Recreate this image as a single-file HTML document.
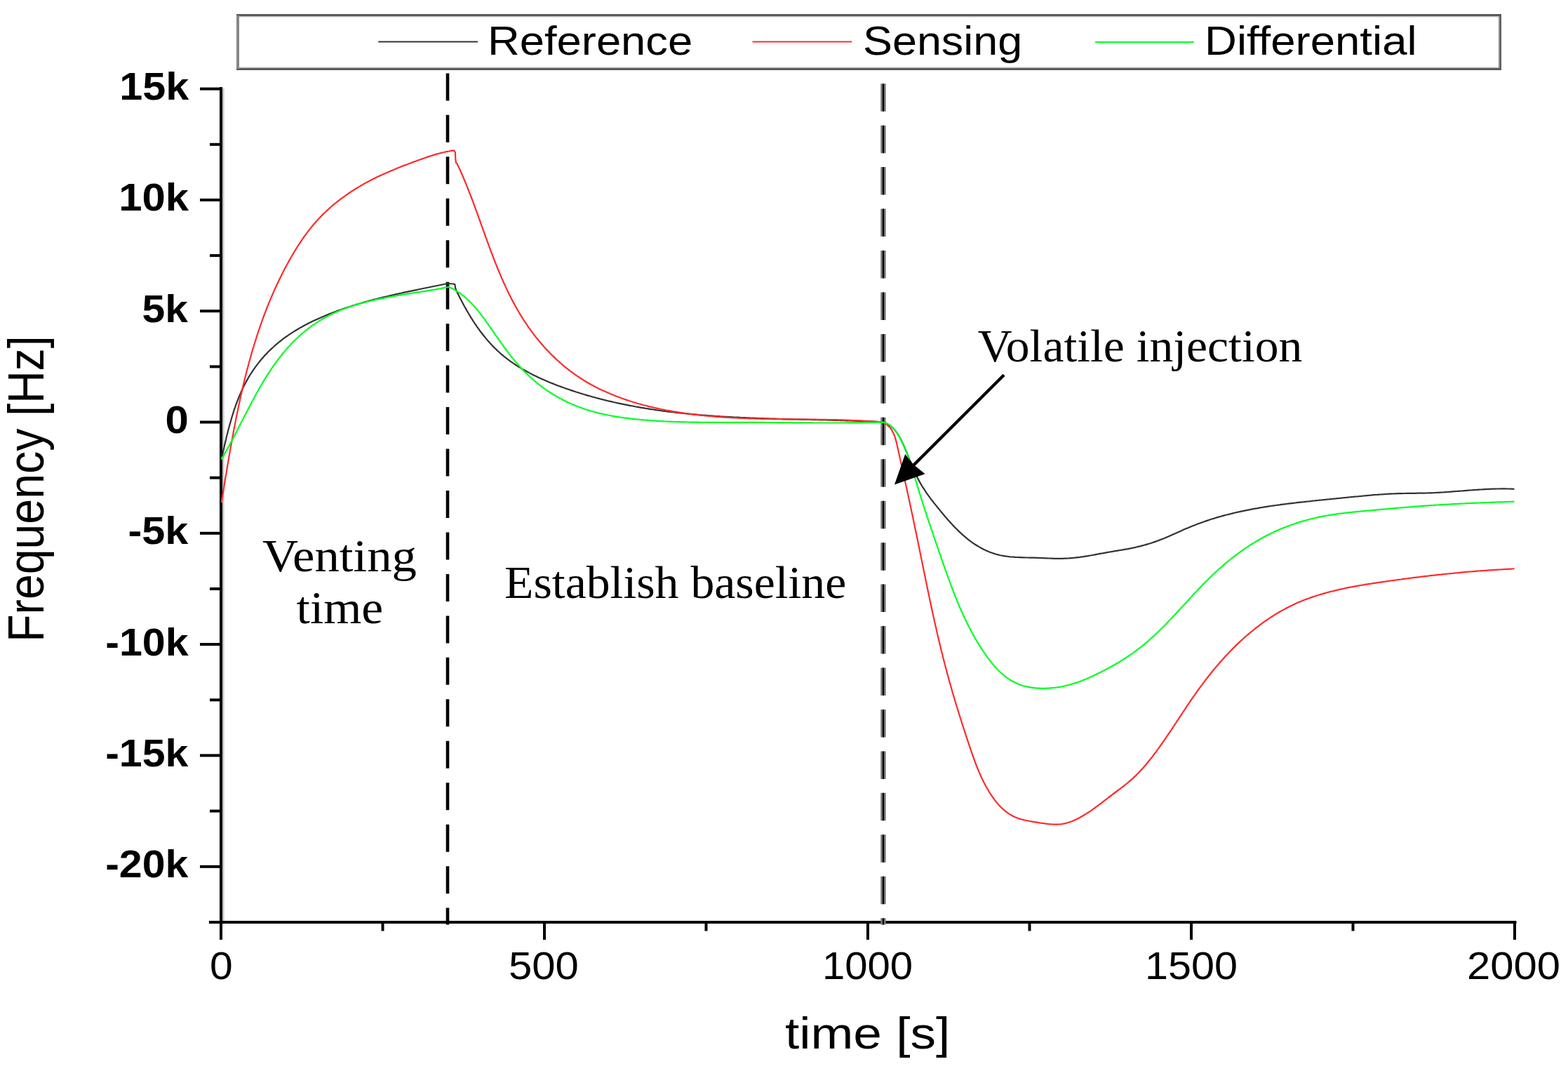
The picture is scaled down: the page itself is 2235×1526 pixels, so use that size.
<!DOCTYPE html><html><head><meta charset="utf-8"><title>Frequency vs time</title><style>html,body{margin:0;padding:0;background:#fff;}svg{display:block;}</style></head><body>
<svg width="2235" height="1526" viewBox="0 0 2235 1526">
<rect width="2235" height="1526" fill="#fff"/>
<rect x="337" y="20" width="1803" height="80" fill="#5a5a5a"/>
<rect x="337" y="23" width="1801" height="74" fill="#c2c2c2"/>
<rect x="341" y="24.5" width="1795" height="71" fill="#fff"/>
<rect x="337" y="22" width="4" height="76" fill="#878787"/>
<rect x="2136" y="23" width="1.8" height="74" fill="#8a8a8a"/>
<line x1="539.3" y1="59.5" x2="681" y2="59.5" stroke="#333" stroke-width="2"/>
<line x1="1072.5" y1="59.5" x2="1214.2" y2="59.5" stroke="#ff2a2a" stroke-width="2"/>
<line x1="1561" y1="60" x2="1701.9" y2="60" stroke="#00ff22" stroke-width="2"/>
<text x="695.00" y="77.60" font-size="57.50" font-weight="normal" font-family="'Liberation Sans', Arial, sans-serif" text-anchor="start" textLength="292.24" lengthAdjust="spacingAndGlyphs">Reference</text>
<text x="1230.00" y="77.60" font-size="57.50" font-weight="normal" font-family="'Liberation Sans', Arial, sans-serif" text-anchor="start" textLength="227.20" lengthAdjust="spacingAndGlyphs">Sensing</text>
<text x="1717.00" y="78.20" font-size="57.50" font-weight="normal" font-family="'Liberation Sans', Arial, sans-serif" text-anchor="start" textLength="302.62" lengthAdjust="spacingAndGlyphs">Differential</text>
<rect x="317" y="126" width="2.5" height="1186" fill="#c4c4c4"/>
<g stroke="#000" stroke-width="4" fill="none" stroke-linecap="butt">
<line x1="315" y1="124" x2="315" y2="1316.5"/>
<line x1="298" y1="1314" x2="2161.5" y2="1314"/>
<line x1="285" y1="1234.8" x2="315" y2="1234.8"/>
<line x1="285" y1="1076.4" x2="315" y2="1076.4"/>
<line x1="285" y1="918.1" x2="315" y2="918.1"/>
<line x1="285" y1="759.8" x2="315" y2="759.8"/>
<line x1="285" y1="601.5" x2="315" y2="601.5"/>
<line x1="285" y1="443.2" x2="315" y2="443.2"/>
<line x1="285" y1="284.9" x2="315" y2="284.9"/>
<line x1="285" y1="126.6" x2="315" y2="126.6"/>
<line x1="299" y1="205.8" x2="315" y2="205.8"/>
<line x1="299" y1="364.1" x2="315" y2="364.1"/>
<line x1="299" y1="522.4" x2="315" y2="522.4"/>
<line x1="299" y1="680.7" x2="315" y2="680.7"/>
<line x1="299" y1="839.0" x2="315" y2="839.0"/>
<line x1="299" y1="997.3" x2="315" y2="997.3"/>
<line x1="299" y1="1155.6" x2="315" y2="1155.6"/>
<line x1="315.0" y1="1314" x2="315.0" y2="1339"/>
<line x1="776.0" y1="1314" x2="776.0" y2="1339"/>
<line x1="1237.0" y1="1314" x2="1237.0" y2="1339"/>
<line x1="1698.0" y1="1314" x2="1698.0" y2="1339"/>
<line x1="2159.0" y1="1314" x2="2159.0" y2="1339"/>
<line x1="545.5" y1="1314" x2="545.5" y2="1326.5"/>
<line x1="1006.5" y1="1314" x2="1006.5" y2="1326.5"/>
<line x1="1467.5" y1="1314" x2="1467.5" y2="1326.5"/>
<line x1="1928.5" y1="1314" x2="1928.5" y2="1326.5"/>
</g>
<line x1="638" y1="104.4" x2="638" y2="1317.5" stroke="#000" stroke-width="4.6" stroke-dasharray="39 20.46"/>
<line x1="1258.95" y1="119.2" x2="1258.95" y2="1317.5" stroke="#7a7a7a" stroke-width="7.4" stroke-dasharray="39.5 19.95"/>
<line x1="1259" y1="119.2" x2="1259" y2="1317.5" stroke="#000" stroke-width="2.2" stroke-dasharray="39.5 19.95"/>
<g fill="none" stroke-width="2.2" stroke-linejoin="round">
<polyline stroke="#333" points="315.6,654.5 316.1,652.1 316.7,649.7 317.2,647.3 317.7,644.8 318.3,642.4 318.8,640.0 319.4,637.5 320.0,635.1 320.5,632.6 321.1,630.2 321.7,627.7 322.3,625.3 322.8,622.8 323.4,620.3 324.1,617.9 324.7,615.4 325.3,613.0 326.0,610.5 326.6,608.1 327.3,605.6 328.0,603.2 328.7,600.7 329.4,598.3 330.1,595.8 330.8,593.4 331.6,591.0 332.3,588.5 333.1,586.1 333.9,583.7 334.7,581.3 335.6,578.9 336.4,576.5 337.3,574.2 338.2,571.8 339.1,569.4 340.0,567.1 341.0,564.7 342.0,562.4 343.0,560.1 344.0,557.8 345.0,555.5 346.1,553.2 347.2,551.0 348.3,548.7 349.5,546.5 350.7,544.3 351.9,542.1 353.1,539.9 354.3,537.7 355.6,535.6 356.9,533.5 358.3,531.4 359.7,529.3 361.1,527.2 362.5,525.1 363.9,523.1 365.4,521.1 366.9,519.1 368.5,517.1 370.0,515.2 371.6,513.2 373.2,511.3 374.9,509.4 376.5,507.6 378.2,505.7 380.0,503.9 381.7,502.1 383.4,500.3 385.2,498.6 387.0,496.9 388.9,495.2 390.7,493.5 392.6,491.8 394.5,490.2 396.4,488.6 398.3,487.0 400.3,485.5 402.2,483.9 404.2,482.4 406.2,480.9 408.3,479.5 410.3,478.1 412.4,476.7 414.4,475.3 416.5,473.9 418.6,472.6 420.8,471.3 422.9,470.0 425.1,468.7 427.2,467.4 429.4,466.2 431.6,465.0 433.8,463.8 436.0,462.6 438.2,461.5 440.4,460.3 442.7,459.2 444.9,458.1 447.2,457.0 449.4,456.0 451.7,454.9 454.0,453.9 456.3,452.9 458.6,451.9 460.9,450.9 463.2,449.9 465.5,449.0 467.8,448.0 470.1,447.1 472.5,446.2 474.8,445.3 477.1,444.4 479.5,443.5 481.8,442.6 484.2,441.8 486.5,441.0 488.9,440.1 491.2,439.3 493.6,438.5 496.0,437.7 498.4,437.0 500.7,436.2 503.1,435.4 505.5,434.7 507.9,433.9 510.3,433.2 512.7,432.5 515.1,431.8 517.5,431.1 519.9,430.4 522.3,429.7 524.8,429.1 527.2,428.4 529.6,427.8 532.0,427.1 534.5,426.5 536.9,425.9 539.3,425.2 541.8,424.6 544.2,424.0 546.7,423.4 549.1,422.8 551.6,422.3 554.0,421.7 556.5,421.1 558.9,420.5 561.4,420.0 563.8,419.4 566.3,418.9 568.7,418.3 571.2,417.8 573.7,417.2 576.1,416.7 578.6,416.2 581.1,415.6 583.5,415.1 586.0,414.6 588.5,414.1 590.9,413.6 593.4,413.1 595.9,412.5 598.4,412.0 600.8,411.5 603.3,411.0 605.8,410.5 608.2,410.0 610.7,409.5 613.2,409.0 615.7,408.5 618.1,408.0 620.6,407.5 623.1,407.0 625.6,406.5 628.0,406.0 630.5,405.5 633.0,405.0 635.4,404.5 637.9,404.0 646.0,404.5 648.3,405.1 649.2,410.6 651.9,417.0 653.0,419.3 654.1,421.5 655.3,423.8 656.4,426.0 657.6,428.3 658.8,430.5 660.0,432.7 661.2,435.0 662.4,437.2 663.7,439.4 664.9,441.6 666.2,443.8 667.5,446.0 668.8,448.2 670.1,450.4 671.4,452.6 672.8,454.7 674.1,456.9 675.5,459.0 676.9,461.1 678.4,463.2 679.8,465.3 681.3,467.4 682.7,469.4 684.2,471.5 685.7,473.5 687.3,475.5 688.8,477.5 690.4,479.5 692.0,481.4 693.6,483.4 695.2,485.3 696.9,487.1 698.6,489.0 700.3,490.8 702.0,492.7 703.7,494.4 705.5,496.2 707.3,497.9 709.1,499.7 710.9,501.3 712.7,503.0 714.6,504.6 716.5,506.2 718.4,507.8 720.4,509.4 722.3,510.9 724.3,512.4 726.3,513.8 728.3,515.3 730.3,516.7 732.4,518.1 734.5,519.5 736.5,520.9 738.6,522.2 740.8,523.5 742.9,524.8 745.0,526.1 747.2,527.3 749.4,528.5 751.6,529.7 753.8,530.9 756.0,532.1 758.2,533.3 760.5,534.4 762.7,535.5 765.0,536.6 767.2,537.7 769.5,538.7 771.8,539.8 774.1,540.8 776.4,541.8 778.7,542.8 781.1,543.8 783.4,544.7 785.7,545.7 788.1,546.6 790.4,547.6 792.8,548.5 795.1,549.4 797.5,550.3 799.9,551.1 802.2,552.0 804.6,552.8 807.0,553.7 809.4,554.5 811.7,555.3 814.1,556.1 816.5,556.9 818.9,557.7 821.3,558.5 823.7,559.2 826.1,560.0 828.5,560.7 830.9,561.5 833.3,562.2 835.7,562.9 838.1,563.6 840.5,564.3 842.9,565.0 845.3,565.7 847.8,566.3 850.2,567.0 852.6,567.6 855.0,568.2 857.4,568.9 859.9,569.5 862.3,570.1 864.7,570.7 867.2,571.3 869.6,571.8 872.1,572.4 874.5,573.0 876.9,573.5 879.4,574.1 881.8,574.6 884.3,575.1 886.7,575.6 889.2,576.1 891.7,576.6 894.1,577.1 896.6,577.6 899.0,578.1 901.5,578.5 904.0,579.0 906.4,579.5 908.9,579.9 911.4,580.3 913.8,580.8 916.3,581.2 918.8,581.6 921.3,582.0 923.7,582.4 926.2,582.8 928.7,583.2 931.2,583.5 933.7,583.9 936.2,584.3 938.7,584.6 941.1,585.0 943.6,585.3 946.1,585.6 948.6,586.0 951.1,586.3 953.6,586.6 956.1,586.9 958.6,587.2 961.1,587.5 963.6,587.8 966.1,588.1 968.6,588.4 971.1,588.6 973.6,588.9 976.1,589.2 978.6,589.4 981.1,589.7 983.7,589.9 986.2,590.2 988.7,590.4 991.2,590.6 993.7,590.8 996.2,591.1 998.7,591.3 1001.3,591.5 1003.8,591.7 1006.3,591.9 1008.8,592.1 1011.3,592.3 1013.8,592.4 1016.4,592.6 1018.9,592.8 1021.4,593.0 1023.9,593.1 1026.5,593.3 1029.0,593.5 1031.5,593.6 1034.0,593.8 1036.6,593.9 1039.1,594.1 1041.6,594.2 1044.1,594.3 1046.7,594.5 1049.2,594.6 1051.7,594.7 1054.2,594.8 1056.8,595.0 1059.3,595.1 1061.8,595.2 1064.4,595.3 1066.9,595.4 1069.4,595.5 1072.0,595.6 1074.5,595.7 1077.0,595.8 1079.5,595.9 1082.1,596.0 1084.6,596.1 1087.1,596.2 1089.7,596.3 1092.2,596.4 1094.7,596.4 1097.3,596.5 1099.8,596.6 1102.3,596.7 1104.9,596.7 1107.4,596.8 1109.9,596.9 1112.4,597.0 1115.0,597.0 1117.5,597.1 1120.0,597.2 1122.6,597.2 1125.1,597.3 1127.6,597.4 1130.1,597.4 1132.7,597.5 1135.2,597.5 1137.7,597.6 1140.3,597.7 1142.8,597.7 1145.3,597.8 1147.8,597.8 1150.3,597.9 1152.9,598.0 1155.4,598.0 1157.9,598.1 1160.4,598.1 1163.0,598.2 1165.5,598.2 1168.0,598.3 1170.5,598.4 1173.0,598.4 1175.6,598.5 1178.1,598.5 1180.6,598.6 1183.1,598.7 1185.6,598.7 1188.1,598.8 1190.6,598.9 1193.1,598.9 1195.7,599.0 1198.2,599.1 1200.7,599.1 1203.2,599.2 1205.7,599.3 1208.2,599.4 1210.7,599.4 1213.2,599.5 1215.7,599.6 1218.2,599.7 1220.7,599.8 1223.2,599.8 1225.7,599.9 1228.2,600.0 1230.7,600.1 1233.2,600.2 1235.7,600.3 1238.1,600.4 1240.6,600.5 1243.1,600.6 1245.6,600.7 1248.1,600.8 1250.6,600.9 1253.0,601.1 1255.5,601.2 1258.0,601.3 1260.4,602.1 1262.7,603.0 1264.9,604.0 1266.9,605.2 1268.9,606.6 1270.7,608.0 1272.5,609.6 1274.1,611.3 1275.7,613.1 1277.2,615.0 1278.6,616.9 1279.9,619.0 1281.2,621.0 1282.5,623.2 1283.7,625.4 1284.8,627.6 1285.9,629.9 1287.0,632.1 1288.1,634.4 1289.1,636.8 1290.1,639.1 1291.1,641.5 1292.1,643.9 1293.0,646.3 1294.0,648.7 1294.9,651.1 1295.9,653.4 1296.8,655.8 1297.8,658.2 1298.7,660.6 1299.7,663.0 1300.7,665.3 1301.6,667.6 1302.7,669.9 1303.7,672.2 1304.7,674.5 1305.8,676.7 1306.9,679.0 1308.0,681.2 1309.1,683.4 1310.3,685.6 1311.5,687.7 1312.7,689.9 1314.0,692.0 1315.2,694.1 1316.6,696.2 1317.9,698.2 1319.3,700.3 1320.6,702.3 1322.1,704.3 1323.5,706.3 1325.0,708.3 1326.4,710.3 1327.9,712.3 1329.5,714.2 1331.0,716.2 1332.5,718.1 1334.1,720.1 1335.7,722.0 1337.2,724.0 1338.8,725.9 1340.4,727.9 1342.0,729.8 1343.6,731.8 1345.3,733.7 1346.9,735.7 1348.5,737.6 1350.2,739.5 1351.9,741.4 1353.6,743.3 1355.3,745.2 1357.0,747.1 1358.7,748.9 1360.5,750.7 1362.2,752.6 1364.0,754.3 1365.8,756.1 1367.6,757.9 1369.5,759.6 1371.3,761.3 1373.2,762.9 1375.1,764.6 1377.0,766.2 1379.0,767.8 1380.9,769.3 1382.9,770.8 1384.9,772.3 1387.0,773.8 1389.0,775.2 1391.1,776.5 1393.2,777.8 1395.3,779.1 1397.5,780.3 1399.7,781.5 1401.9,782.7 1404.1,783.7 1406.3,784.8 1408.6,785.7 1410.9,786.7 1413.2,787.5 1415.5,788.3 1417.8,789.1 1420.2,789.8 1422.6,790.4 1425.0,791.0 1427.4,791.5 1429.8,791.9 1432.3,792.3 1434.7,792.7 1437.2,793.0 1439.7,793.3 1442.2,793.5 1444.7,793.7 1447.2,793.9 1449.7,794.0 1452.2,794.1 1454.7,794.2 1457.2,794.3 1459.8,794.4 1462.3,794.5 1464.8,794.5 1467.4,794.6 1469.9,794.6 1472.4,794.7 1475.0,794.7 1477.5,794.8 1480.0,794.9 1482.5,795.0 1485.0,795.1 1487.5,795.2 1490.0,795.3 1492.5,795.4 1495.0,795.5 1497.5,795.6 1500.0,795.7 1502.4,795.8 1504.9,795.8 1507.4,795.9 1509.8,795.9 1512.3,795.8 1514.8,795.8 1517.3,795.7 1519.7,795.6 1522.2,795.5 1524.7,795.3 1527.1,795.1 1529.6,794.9 1532.1,794.7 1534.5,794.4 1537.0,794.1 1539.5,793.8 1541.9,793.4 1544.4,793.1 1546.9,792.7 1549.4,792.3 1551.8,791.9 1554.3,791.5 1556.8,791.0 1559.3,790.6 1561.8,790.1 1564.2,789.7 1566.7,789.2 1569.2,788.7 1571.7,788.3 1574.2,787.8 1576.6,787.4 1579.1,786.9 1581.6,786.5 1584.1,786.1 1586.6,785.7 1589.1,785.2 1591.6,784.8 1594.1,784.4 1596.5,784.0 1599.0,783.6 1601.5,783.2 1604.0,782.7 1606.4,782.3 1608.9,781.8 1611.3,781.4 1613.8,780.9 1616.2,780.3 1618.7,779.8 1621.1,779.2 1623.5,778.7 1625.9,778.1 1628.3,777.4 1630.7,776.8 1633.1,776.1 1635.5,775.4 1637.9,774.7 1640.2,774.0 1642.6,773.2 1645.0,772.4 1647.3,771.6 1649.6,770.8 1652.0,769.9 1654.3,769.0 1656.6,768.1 1658.9,767.2 1661.2,766.3 1663.5,765.3 1665.8,764.3 1668.1,763.3 1670.3,762.3 1672.6,761.3 1674.9,760.3 1677.2,759.2 1679.4,758.2 1681.7,757.2 1684.0,756.2 1686.3,755.1 1688.6,754.1 1690.9,753.1 1693.2,752.2 1695.5,751.2 1697.8,750.2 1700.1,749.3 1702.4,748.4 1704.8,747.5 1707.1,746.6 1709.4,745.7 1711.8,744.9 1714.1,744.0 1716.5,743.2 1718.8,742.4 1721.2,741.6 1723.6,740.8 1725.9,740.0 1728.3,739.3 1730.7,738.6 1733.1,737.8 1735.5,737.1 1737.9,736.4 1740.2,735.8 1742.6,735.1 1745.1,734.4 1747.5,733.8 1749.9,733.2 1752.3,732.6 1754.7,732.0 1757.1,731.4 1759.6,730.8 1762.0,730.2 1764.4,729.7 1766.9,729.1 1769.3,728.6 1771.7,728.1 1774.2,727.6 1776.6,727.1 1779.1,726.6 1781.6,726.1 1784.0,725.6 1786.5,725.2 1788.9,724.7 1791.4,724.3 1793.9,723.8 1796.3,723.4 1798.8,723.0 1801.3,722.6 1803.8,722.2 1806.2,721.8 1808.7,721.4 1811.2,721.0 1813.7,720.7 1816.2,720.3 1818.6,720.0 1821.1,719.6 1823.6,719.3 1826.1,718.9 1828.6,718.6 1831.1,718.3 1833.6,718.0 1836.1,717.7 1838.6,717.4 1841.1,717.1 1843.6,716.8 1846.1,716.5 1848.6,716.2 1851.1,715.9 1853.6,715.6 1856.1,715.3 1858.6,715.1 1861.1,714.8 1863.6,714.5 1866.1,714.3 1868.6,714.0 1871.1,713.7 1873.6,713.5 1876.1,713.2 1878.6,713.0 1881.1,712.7 1883.6,712.5 1886.1,712.2 1888.6,712.0 1891.1,711.7 1893.6,711.5 1896.1,711.2 1898.6,711.0 1901.1,710.7 1903.6,710.5 1906.1,710.2 1908.5,710.0 1911.0,709.7 1913.5,709.5 1916.0,709.2 1918.5,709.0 1921.0,708.7 1923.5,708.5 1925.9,708.2 1928.4,708.0 1930.9,707.7 1933.4,707.5 1935.9,707.3 1938.4,707.0 1940.8,706.8 1943.3,706.5 1945.8,706.3 1948.3,706.1 1950.8,705.9 1953.2,705.7 1955.7,705.4 1958.2,705.2 1960.7,705.0 1963.2,704.9 1965.7,704.7 1968.1,704.5 1970.6,704.3 1973.1,704.2 1975.6,704.0 1978.1,703.9 1980.6,703.7 1983.1,703.6 1985.6,703.5 1988.1,703.4 1990.6,703.3 1993.1,703.2 1995.6,703.1 1998.1,703.1 2000.6,703.0 2003.1,703.0 2005.6,702.9 2008.2,702.9 2010.7,702.9 2013.2,702.8 2015.7,702.8 2018.2,702.8 2020.7,702.7 2023.3,702.7 2025.8,702.7 2028.3,702.6 2030.8,702.6 2033.3,702.5 2035.8,702.4 2038.4,702.4 2040.9,702.3 2043.4,702.2 2045.9,702.0 2048.4,701.9 2050.9,701.8 2053.4,701.6 2055.9,701.5 2058.4,701.3 2060.9,701.1 2063.4,701.0 2065.9,700.8 2068.4,700.6 2070.9,700.4 2073.4,700.2 2075.9,700.0 2078.4,699.8 2080.9,699.6 2083.4,699.5 2085.9,699.3 2088.4,699.1 2090.9,698.9 2093.4,698.7 2095.9,698.5 2098.4,698.3 2100.9,698.1 2103.4,698.0 2105.9,697.8 2108.4,697.6 2110.9,697.5 2113.4,697.3 2115.9,697.2 2118.4,697.1 2120.9,696.9 2123.4,696.8 2125.9,696.7 2128.4,696.6 2130.9,696.6 2133.4,696.5 2135.9,696.5 2138.4,696.4 2140.9,696.4 2143.4,696.4 2145.9,696.4 2148.4,696.5 2151.0,696.5 2153.5,696.6 2156.0,696.7 2158.5,696.8"/>
<polyline stroke="#ff2a2a" points="315.6,716.3 316.0,713.8 316.4,711.4 316.8,708.9 317.2,706.5 317.6,704.0 318.0,701.6 318.4,699.1 318.8,696.7 319.2,694.2 319.6,691.7 320.0,689.3 320.4,686.8 320.8,684.3 321.2,681.9 321.6,679.4 322.0,676.9 322.5,674.4 322.9,672.0 323.3,669.5 323.7,667.0 324.1,664.5 324.5,662.1 325.0,659.6 325.4,657.1 325.8,654.6 326.2,652.2 326.6,649.7 327.1,647.2 327.5,644.7 327.9,642.2 328.4,639.8 328.8,637.3 329.3,634.8 329.7,632.3 330.2,629.8 330.6,627.3 331.1,624.9 331.5,622.4 332.0,619.9 332.4,617.4 332.9,614.9 333.4,612.4 333.8,610.0 334.3,607.5 334.8,605.0 335.3,602.5 335.8,600.0 336.2,597.6 336.7,595.1 337.2,592.6 337.7,590.1 338.2,587.7 338.8,585.2 339.3,582.7 339.8,580.2 340.3,577.8 340.8,575.3 341.4,572.8 341.9,570.3 342.4,567.9 343.0,565.4 343.5,562.9 344.1,560.5 344.7,558.0 345.2,555.5 345.8,553.1 346.4,550.6 346.9,548.2 347.5,545.7 348.1,543.3 348.7,540.8 349.3,538.4 349.9,535.9 350.6,533.5 351.2,531.0 351.8,528.6 352.4,526.1 353.1,523.7 353.7,521.3 354.4,518.8 355.0,516.4 355.7,514.0 356.4,511.5 357.1,509.1 357.7,506.7 358.4,504.3 359.1,501.8 359.8,499.4 360.5,497.0 361.3,494.6 362.0,492.2 362.7,489.8 363.5,487.4 364.2,485.0 365.0,482.6 365.7,480.2 366.5,477.8 367.3,475.4 368.1,473.0 368.9,470.7 369.7,468.3 370.5,465.9 371.3,463.5 372.1,461.2 373.0,458.8 373.8,456.4 374.7,454.1 375.5,451.7 376.4,449.4 377.3,447.0 378.2,444.7 379.1,442.4 380.0,440.0 380.9,437.7 381.8,435.4 382.8,433.0 383.7,430.7 384.7,428.4 385.6,426.1 386.6,423.8 387.6,421.5 388.6,419.2 389.6,416.9 390.6,414.6 391.6,412.3 392.6,410.1 393.7,407.8 394.7,405.5 395.8,403.2 396.9,401.0 398.0,398.7 399.1,396.5 400.2,394.2 401.3,392.0 402.4,389.8 403.5,387.5 404.7,385.3 405.8,383.1 407.0,380.9 408.2,378.7 409.4,376.5 410.6,374.3 411.8,372.1 413.0,369.9 414.3,367.7 415.5,365.5 416.8,363.3 418.1,361.2 419.3,359.0 420.6,356.9 422.0,354.7 423.3,352.6 424.6,350.5 426.0,348.4 427.4,346.3 428.8,344.2 430.2,342.1 431.6,340.0 433.0,338.0 434.5,335.9 436.0,333.9 437.5,331.9 439.0,329.9 440.5,327.9 442.1,325.9 443.6,323.9 445.2,322.0 446.8,320.1 448.5,318.2 450.1,316.3 451.8,314.4 453.5,312.5 455.2,310.7 457.0,308.9 458.7,307.1 460.5,305.3 462.3,303.5 464.2,301.8 466.0,300.1 467.9,298.4 469.7,296.7 471.6,295.0 473.5,293.3 475.5,291.7 477.4,290.1 479.4,288.5 481.4,286.9 483.4,285.4 485.4,283.8 487.4,282.3 489.4,280.8 491.5,279.3 493.5,277.9 495.6,276.4 497.7,275.0 499.8,273.6 501.9,272.2 504.0,270.9 506.2,269.5 508.3,268.2 510.5,266.9 512.6,265.6 514.8,264.3 516.9,263.1 519.1,261.8 521.3,260.6 523.5,259.4 525.7,258.3 527.9,257.1 530.2,256.0 532.4,254.8 534.6,253.7 536.8,252.6 539.1,251.6 541.3,250.5 543.6,249.4 545.9,248.4 548.1,247.4 550.4,246.4 552.7,245.4 555.0,244.4 557.3,243.4 559.6,242.4 561.9,241.5 564.2,240.5 566.5,239.6 568.8,238.7 571.1,237.8 573.4,236.8 575.8,235.9 578.1,235.0 580.4,234.2 582.8,233.3 585.1,232.4 587.5,231.5 589.8,230.6 592.2,229.8 594.5,228.9 596.9,228.0 599.3,227.2 601.6,226.4 604.0,225.5 606.4,224.7 608.8,223.9 611.1,223.1 613.5,222.3 615.9,221.6 618.3,220.8 620.7,220.1 623.1,219.4 625.5,218.8 627.9,218.1 630.3,217.5 632.7,217.0 635.1,216.4 637.5,215.9 639.9,215.5 642.3,215.0 644.7,214.6 647.1,214.3 648.9,217.0 649.3,227.0 650.0,232.0 651.7,233.5 652.7,235.7 653.8,237.9 654.8,240.1 655.8,242.3 656.8,244.5 657.8,246.8 658.8,249.0 659.7,251.2 660.7,253.5 661.6,255.8 662.6,258.0 663.5,260.3 664.5,262.6 665.4,264.9 666.3,267.2 667.2,269.5 668.1,271.8 669.0,274.1 669.9,276.4 670.8,278.7 671.7,281.0 672.6,283.4 673.5,285.7 674.4,288.0 675.2,290.4 676.1,292.7 677.0,295.1 677.8,297.5 678.7,299.8 679.6,302.2 680.4,304.5 681.3,306.9 682.1,309.3 683.0,311.6 683.8,314.0 684.7,316.4 685.5,318.8 686.4,321.2 687.2,323.5 688.1,325.9 689.0,328.3 689.8,330.7 690.7,333.1 691.5,335.5 692.4,337.8 693.3,340.2 694.1,342.6 695.0,345.0 695.9,347.4 696.7,349.8 697.6,352.1 698.5,354.5 699.4,356.9 700.3,359.3 701.2,361.6 702.1,364.0 703.0,366.4 703.9,368.8 704.8,371.1 705.8,373.5 706.7,375.8 707.6,378.2 708.6,380.5 709.5,382.9 710.5,385.2 711.5,387.6 712.5,389.9 713.4,392.2 714.4,394.6 715.4,396.9 716.5,399.2 717.5,401.5 718.5,403.8 719.6,406.1 720.6,408.4 721.7,410.7 722.7,412.9 723.8,415.2 724.9,417.5 726.0,419.7 727.2,422.0 728.3,424.2 729.4,426.4 730.6,428.7 731.8,430.9 733.0,433.1 734.2,435.3 735.4,437.5 736.6,439.7 737.9,441.8 739.1,444.0 740.4,446.2 741.7,448.3 743.0,450.4 744.3,452.6 745.6,454.7 747.0,456.8 748.4,458.9 749.8,460.9 751.2,463.0 752.6,465.1 754.0,467.1 755.5,469.1 756.9,471.2 758.4,473.2 759.9,475.2 761.4,477.2 762.9,479.1 764.5,481.1 766.1,483.0 767.6,484.9 769.2,486.9 770.8,488.8 772.4,490.6 774.1,492.5 775.7,494.4 777.4,496.2 779.1,498.0 780.8,499.8 782.5,501.6 784.2,503.4 786.0,505.2 787.7,506.9 789.5,508.6 791.3,510.4 793.1,512.1 794.9,513.7 796.8,515.4 798.6,517.0 800.5,518.6 802.3,520.3 804.2,521.8 806.1,523.4 808.1,524.9 810.0,526.5 812.0,528.0 813.9,529.5 815.9,530.9 817.9,532.4 819.9,533.8 821.9,535.2 824.0,536.6 826.0,538.0 828.1,539.3 830.2,540.6 832.3,542.0 834.4,543.2 836.5,544.5 838.6,545.7 840.8,547.0 842.9,548.2 845.1,549.3 847.3,550.5 849.5,551.7 851.7,552.8 853.9,553.9 856.1,555.0 858.4,556.0 860.6,557.1 862.9,558.1 865.2,559.1 867.5,560.1 869.8,561.1 872.1,562.1 874.4,563.0 876.7,563.9 879.0,564.8 881.4,565.7 883.7,566.6 886.1,567.5 888.4,568.3 890.8,569.1 893.2,569.9 895.6,570.7 898.0,571.5 900.4,572.3 902.8,573.0 905.2,573.7 907.6,574.5 910.1,575.2 912.5,575.8 914.9,576.5 917.4,577.2 919.8,577.8 922.3,578.4 924.8,579.1 927.2,579.7 929.7,580.2 932.2,580.8 934.7,581.4 937.1,581.9 939.6,582.5 942.1,583.0 944.6,583.5 947.1,584.0 949.6,584.5 952.1,584.9 954.6,585.4 957.1,585.8 959.7,586.3 962.2,586.7 964.7,587.1 967.2,587.5 969.7,587.9 972.2,588.3 974.8,588.6 977.3,589.0 979.8,589.3 982.3,589.7 984.8,590.0 987.3,590.3 989.9,590.6 992.4,590.9 994.9,591.2 997.4,591.5 999.9,591.8 1002.4,592.0 1005.0,592.3 1007.5,592.5 1010.0,592.8 1012.5,593.0 1015.0,593.2 1017.5,593.4 1020.1,593.6 1022.6,593.8 1025.1,594.0 1027.6,594.2 1030.1,594.4 1032.6,594.6 1035.1,594.7 1037.6,594.9 1040.2,595.0 1042.7,595.2 1045.2,595.3 1047.7,595.4 1050.2,595.5 1052.7,595.7 1055.2,595.8 1057.7,595.9 1060.2,596.0 1062.8,596.1 1065.3,596.2 1067.8,596.3 1070.3,596.3 1072.8,596.4 1075.3,596.5 1077.8,596.6 1080.3,596.6 1082.8,596.7 1085.3,596.8 1087.8,596.8 1090.4,596.9 1092.9,596.9 1095.4,597.0 1097.9,597.0 1100.4,597.1 1102.9,597.1 1105.4,597.1 1107.9,597.2 1110.4,597.2 1112.9,597.2 1115.4,597.3 1117.9,597.3 1120.4,597.3 1122.9,597.3 1125.4,597.4 1127.9,597.4 1130.4,597.4 1132.9,597.4 1135.5,597.5 1138.0,597.5 1140.5,597.5 1143.0,597.5 1145.5,597.5 1148.0,597.6 1150.5,597.6 1153.0,597.6 1155.5,597.6 1158.0,597.7 1160.5,597.7 1163.0,597.7 1165.5,597.8 1168.0,597.8 1170.5,597.8 1173.0,597.9 1175.5,597.9 1178.0,597.9 1180.5,598.0 1183.0,598.0 1185.5,598.1 1188.0,598.1 1190.5,598.2 1193.0,598.2 1195.5,598.3 1198.0,598.4 1200.5,598.4 1203.0,598.5 1205.5,598.6 1208.0,598.7 1210.5,598.8 1213.0,598.9 1215.5,599.0 1218.0,599.1 1220.5,599.2 1223.0,599.3 1225.5,599.4 1228.0,599.5 1230.5,599.7 1233.0,599.8 1235.5,599.9 1238.0,600.1 1240.5,600.2 1243.0,600.4 1245.5,600.6 1248.0,600.7 1250.5,600.9 1253.0,601.1 1255.5,601.3 1258.0,601.5 1260.4,602.6 1262.5,603.9 1264.5,605.4 1266.3,606.9 1267.9,608.6 1269.4,610.4 1270.8,612.4 1272.0,614.4 1273.1,616.5 1274.1,618.7 1275.0,620.9 1275.8,623.3 1276.5,625.6 1277.2,628.1 1277.8,630.5 1278.4,633.0 1279.0,635.5 1279.5,638.0 1280.1,640.5 1280.6,643.0 1281.2,645.5 1281.7,648.0 1282.3,650.5 1282.8,653.0 1283.4,655.5 1283.9,657.9 1284.5,660.4 1285.0,662.9 1285.6,665.3 1286.1,667.8 1286.6,670.3 1287.2,672.7 1287.7,675.2 1288.3,677.6 1288.8,680.1 1289.3,682.5 1289.9,685.0 1290.4,687.4 1291.0,689.9 1291.5,692.3 1292.0,694.8 1292.6,697.2 1293.1,699.7 1293.6,702.1 1294.2,704.5 1294.7,707.0 1295.2,709.4 1295.8,711.9 1296.3,714.3 1296.8,716.7 1297.3,719.2 1297.9,721.6 1298.4,724.0 1298.9,726.5 1299.4,728.9 1299.9,731.3 1300.5,733.8 1301.0,736.2 1301.5,738.7 1302.0,741.1 1302.5,743.5 1303.0,746.0 1303.5,748.4 1304.0,750.9 1304.5,753.3 1305.1,755.8 1305.6,758.2 1306.1,760.6 1306.6,763.1 1307.1,765.5 1307.6,768.0 1308.1,770.4 1308.6,772.9 1309.1,775.3 1309.6,777.8 1310.1,780.2 1310.6,782.7 1311.1,785.1 1311.6,787.6 1312.1,790.0 1312.6,792.5 1313.1,795.0 1313.6,797.4 1314.1,799.9 1314.6,802.3 1315.1,804.8 1315.6,807.2 1316.1,809.7 1316.6,812.1 1317.1,814.6 1317.6,817.0 1318.1,819.5 1318.6,821.9 1319.1,824.4 1319.6,826.9 1320.1,829.3 1320.6,831.8 1321.1,834.2 1321.6,836.7 1322.1,839.1 1322.6,841.6 1323.2,844.0 1323.7,846.5 1324.2,848.9 1324.7,851.4 1325.2,853.8 1325.7,856.3 1326.3,858.8 1326.8,861.2 1327.3,863.7 1327.8,866.1 1328.4,868.6 1328.9,871.0 1329.4,873.5 1330.0,875.9 1330.5,878.4 1331.1,880.8 1331.6,883.2 1332.1,885.7 1332.7,888.1 1333.2,890.6 1333.8,893.0 1334.4,895.5 1334.9,897.9 1335.5,900.4 1336.0,902.8 1336.6,905.2 1337.2,907.7 1337.7,910.1 1338.3,912.5 1338.9,915.0 1339.5,917.4 1340.1,919.9 1340.7,922.3 1341.3,924.7 1341.8,927.2 1342.4,929.6 1343.1,932.0 1343.7,934.4 1344.3,936.9 1344.9,939.3 1345.5,941.7 1346.1,944.1 1346.7,946.6 1347.4,949.0 1348.0,951.4 1348.7,953.8 1349.3,956.2 1349.9,958.6 1350.6,961.1 1351.3,963.5 1351.9,965.9 1352.6,968.3 1353.2,970.7 1353.9,973.1 1354.6,975.5 1355.3,977.9 1356.0,980.3 1356.7,982.7 1357.3,985.1 1358.0,987.5 1358.7,989.9 1359.5,992.3 1360.2,994.7 1360.9,997.1 1361.6,999.5 1362.3,1001.9 1363.0,1004.3 1363.8,1006.7 1364.5,1009.0 1365.2,1011.4 1366.0,1013.8 1366.7,1016.2 1367.5,1018.6 1368.2,1021.0 1369.0,1023.4 1369.7,1025.7 1370.5,1028.1 1371.2,1030.5 1372.0,1032.9 1372.8,1035.3 1373.5,1037.7 1374.3,1040.0 1375.1,1042.4 1375.9,1044.8 1376.6,1047.2 1377.4,1049.6 1378.2,1051.9 1379.0,1054.3 1379.8,1056.7 1380.6,1059.1 1381.4,1061.4 1382.2,1063.8 1383.0,1066.2 1383.8,1068.6 1384.6,1070.9 1385.4,1073.3 1386.3,1075.7 1387.1,1078.1 1387.9,1080.4 1388.8,1082.8 1389.7,1085.1 1390.5,1087.5 1391.4,1089.8 1392.3,1092.1 1393.3,1094.5 1394.2,1096.8 1395.2,1099.1 1396.2,1101.4 1397.2,1103.7 1398.2,1106.0 1399.2,1108.3 1400.3,1110.5 1401.4,1112.8 1402.5,1115.0 1403.7,1117.2 1404.9,1119.5 1406.1,1121.7 1407.3,1123.8 1408.6,1126.0 1409.9,1128.2 1411.2,1130.3 1412.6,1132.4 1414.0,1134.5 1415.5,1136.6 1416.9,1138.6 1418.5,1140.6 1420.0,1142.6 1421.6,1144.5 1423.2,1146.4 1424.9,1148.2 1426.6,1150.0 1428.4,1151.7 1430.2,1153.4 1432.1,1154.9 1433.9,1156.5 1435.9,1157.9 1437.9,1159.3 1439.9,1160.6 1442.0,1161.8 1444.1,1163.0 1446.3,1164.0 1448.5,1164.9 1450.8,1165.8 1453.1,1166.6 1455.4,1167.3 1457.8,1167.9 1460.2,1168.5 1462.7,1169.0 1465.1,1169.5 1467.6,1170.0 1470.1,1170.4 1472.5,1170.9 1475.0,1171.3 1477.5,1171.7 1480.0,1172.1 1482.5,1172.5 1485.0,1172.9 1487.4,1173.2 1489.9,1173.5 1492.4,1173.8 1494.8,1174.1 1497.2,1174.3 1499.7,1174.5 1502.1,1174.6 1504.5,1174.7 1506.9,1174.7 1509.3,1174.5 1511.6,1174.3 1514.0,1174.0 1516.3,1173.6 1518.7,1173.1 1521.0,1172.5 1523.3,1171.8 1525.6,1171.0 1527.9,1170.2 1530.1,1169.2 1532.4,1168.2 1534.6,1167.2 1536.8,1166.1 1539.0,1165.0 1541.2,1163.8 1543.3,1162.5 1545.5,1161.2 1547.6,1159.9 1549.7,1158.6 1551.8,1157.2 1553.9,1155.8 1556.0,1154.3 1558.1,1152.9 1560.2,1151.4 1562.2,1149.9 1564.3,1148.4 1566.3,1146.8 1568.4,1145.3 1570.4,1143.8 1572.4,1142.2 1574.4,1140.7 1576.4,1139.1 1578.5,1137.6 1580.5,1136.0 1582.5,1134.5 1584.5,1133.0 1586.4,1131.5 1588.4,1130.0 1590.4,1128.5 1592.4,1127.0 1594.3,1125.6 1596.3,1124.1 1598.3,1122.6 1600.2,1121.1 1602.1,1119.6 1604.0,1118.1 1605.9,1116.5 1607.8,1115.0 1609.7,1113.4 1611.5,1111.8 1613.4,1110.2 1615.2,1108.6 1617.0,1106.9 1618.8,1105.2 1620.5,1103.4 1622.3,1101.7 1624.0,1099.9 1625.7,1098.1 1627.4,1096.2 1629.1,1094.4 1630.8,1092.5 1632.4,1090.6 1634.0,1088.7 1635.6,1086.8 1637.2,1084.8 1638.8,1082.8 1640.4,1080.9 1642.0,1078.9 1643.5,1076.9 1645.0,1074.8 1646.6,1072.8 1648.1,1070.8 1649.6,1068.7 1651.1,1066.7 1652.5,1064.7 1654.0,1062.6 1655.5,1060.5 1656.9,1058.5 1658.3,1056.4 1659.8,1054.4 1661.2,1052.3 1662.6,1050.2 1664.0,1048.2 1665.4,1046.1 1666.8,1044.0 1668.2,1042.0 1669.6,1039.9 1671.0,1037.8 1672.4,1035.7 1673.7,1033.7 1675.1,1031.6 1676.5,1029.5 1677.8,1027.4 1679.2,1025.4 1680.6,1023.3 1681.9,1021.2 1683.3,1019.1 1684.7,1017.1 1686.0,1015.0 1687.4,1012.9 1688.8,1010.9 1690.2,1008.8 1691.5,1006.7 1692.9,1004.7 1694.3,1002.6 1695.7,1000.5 1697.1,998.5 1698.5,996.4 1699.9,994.4 1701.3,992.3 1702.8,990.3 1704.2,988.3 1705.6,986.2 1707.1,984.2 1708.5,982.2 1710.0,980.1 1711.5,978.1 1713.0,976.1 1714.4,974.1 1716.0,972.1 1717.5,970.1 1719.0,968.1 1720.5,966.1 1722.1,964.1 1723.6,962.2 1725.2,960.2 1726.8,958.2 1728.4,956.3 1730.0,954.3 1731.6,952.4 1733.2,950.5 1734.9,948.5 1736.5,946.6 1738.1,944.7 1739.8,942.8 1741.5,940.9 1743.2,939.1 1744.9,937.2 1746.6,935.3 1748.3,933.5 1750.0,931.7 1751.8,929.8 1753.5,928.0 1755.3,926.2 1757.0,924.4 1758.8,922.6 1760.6,920.9 1762.4,919.1 1764.2,917.4 1766.0,915.6 1767.9,913.9 1769.7,912.2 1771.6,910.5 1773.4,908.8 1775.3,907.2 1777.2,905.5 1779.1,903.9 1781.0,902.3 1782.9,900.6 1784.9,899.1 1786.8,897.5 1788.8,895.9 1790.7,894.4 1792.7,892.8 1794.7,891.3 1796.7,889.8 1798.7,888.4 1800.7,886.9 1802.7,885.4 1804.8,884.0 1806.8,882.6 1808.9,881.2 1811.0,879.9 1813.0,878.5 1815.1,877.2 1817.2,875.8 1819.4,874.6 1821.5,873.3 1823.6,872.0 1825.8,870.8 1827.9,869.6 1830.1,868.4 1832.3,867.2 1834.5,866.0 1836.7,864.9 1838.9,863.8 1841.1,862.7 1843.4,861.7 1845.6,860.6 1847.9,859.6 1850.1,858.6 1852.4,857.6 1854.7,856.7 1857.0,855.7 1859.3,854.8 1861.7,853.9 1864.0,853.1 1866.3,852.2 1868.7,851.4 1871.0,850.6 1873.4,849.8 1875.8,849.0 1878.2,848.2 1880.6,847.5 1883.0,846.8 1885.4,846.1 1887.8,845.4 1890.2,844.7 1892.6,844.0 1895.0,843.4 1897.5,842.8 1899.9,842.2 1902.4,841.6 1904.8,841.0 1907.3,840.4 1909.7,839.8 1912.2,839.3 1914.7,838.8 1917.2,838.2 1919.6,837.7 1922.1,837.2 1924.6,836.7 1927.1,836.3 1929.6,835.8 1932.1,835.3 1934.6,834.9 1937.1,834.4 1939.6,834.0 1942.1,833.6 1944.6,833.2 1947.1,832.7 1949.6,832.3 1952.1,831.9 1954.6,831.6 1957.1,831.2 1959.6,830.8 1962.1,830.4 1964.6,830.0 1967.1,829.7 1969.6,829.3 1972.1,828.9 1974.6,828.6 1977.1,828.2 1979.6,827.9 1982.1,827.5 1984.5,827.2 1987.0,826.8 1989.5,826.5 1992.0,826.1 1994.5,825.8 1996.9,825.5 1999.4,825.1 2001.9,824.8 2004.4,824.5 2006.8,824.2 2009.3,823.8 2011.8,823.5 2014.3,823.2 2016.7,822.9 2019.2,822.6 2021.7,822.3 2024.1,822.0 2026.6,821.7 2029.1,821.4 2031.5,821.1 2034.0,820.8 2036.5,820.5 2038.9,820.2 2041.4,819.9 2043.8,819.7 2046.3,819.4 2048.8,819.1 2051.2,818.8 2053.7,818.6 2056.2,818.3 2058.6,818.0 2061.1,817.8 2063.6,817.5 2066.0,817.3 2068.5,817.0 2071.0,816.8 2073.4,816.5 2075.9,816.3 2078.4,816.1 2080.9,815.8 2083.3,815.6 2085.8,815.4 2088.3,815.2 2090.8,815.0 2093.2,814.7 2095.7,814.5 2098.2,814.3 2100.7,814.1 2103.2,813.9 2105.7,813.7 2108.2,813.5 2110.6,813.3 2113.1,813.1 2115.6,813.0 2118.1,812.8 2120.6,812.6 2123.1,812.4 2125.7,812.3 2128.2,812.1 2130.7,811.9 2133.2,811.8 2135.7,811.6 2138.2,811.5 2140.7,811.3 2143.3,811.2 2145.8,811.0 2148.3,810.9 2150.9,810.8 2153.4,810.6 2156.0,810.5 2158.5,810.4"/>
<polyline stroke="#00ff22" points="315.6,654.5 316.8,652.4 318.1,650.3 319.3,648.2 320.5,646.0 321.7,643.9 322.9,641.8 324.1,639.6 325.3,637.4 326.5,635.3 327.7,633.1 328.9,630.9 330.1,628.7 331.2,626.5 332.4,624.3 333.6,622.0 334.7,619.8 335.9,617.6 337.0,615.3 338.2,613.1 339.3,610.9 340.5,608.6 341.7,606.3 342.8,604.1 344.0,601.8 345.1,599.6 346.3,597.3 347.4,595.1 348.6,592.8 349.8,590.5 350.9,588.3 352.1,586.0 353.3,583.7 354.4,581.5 355.6,579.2 356.8,577.0 358.0,574.7 359.2,572.4 360.4,570.2 361.6,567.9 362.8,565.7 364.0,563.5 365.3,561.2 366.5,559.0 367.8,556.8 369.0,554.6 370.3,552.4 371.6,550.1 372.8,548.0 374.1,545.8 375.4,543.6 376.7,541.4 378.1,539.2 379.4,537.1 380.7,534.9 382.1,532.8 383.5,530.7 384.9,528.6 386.3,526.5 387.7,524.4 389.1,522.3 390.5,520.2 392.0,518.2 393.5,516.1 395.0,514.1 396.5,512.1 398.0,510.1 399.5,508.1 401.1,506.2 402.7,504.2 404.2,502.3 405.9,500.4 407.5,498.5 409.1,496.6 410.8,494.7 412.5,492.9 414.2,491.0 415.9,489.2 417.7,487.4 419.4,485.7 421.2,483.9 423.0,482.2 424.9,480.5 426.7,478.8 428.6,477.1 430.4,475.5 432.3,473.9 434.3,472.3 436.2,470.7 438.2,469.2 440.1,467.7 442.1,466.2 444.1,464.7 446.2,463.2 448.2,461.8 450.3,460.4 452.4,459.1 454.4,457.7 456.6,456.4 458.7,455.2 460.8,453.9 463.0,452.7 465.2,451.5 467.4,450.4 469.6,449.2 471.8,448.1 474.1,447.0 476.3,446.0 478.6,445.0 480.9,444.0 483.2,443.0 485.5,442.1 487.8,441.1 490.1,440.2 492.5,439.4 494.8,438.5 497.2,437.7 499.6,436.9 502.0,436.1 504.3,435.3 506.8,434.6 509.2,433.8 511.6,433.1 514.0,432.4 516.5,431.8 518.9,431.1 521.4,430.5 523.8,429.8 526.3,429.2 528.8,428.6 531.2,428.1 533.7,427.5 536.2,426.9 538.7,426.4 541.2,425.9 543.7,425.4 546.2,424.9 548.7,424.4 551.2,423.9 553.7,423.4 556.2,422.9 558.8,422.5 561.3,422.0 563.8,421.6 566.3,421.2 568.8,420.7 571.3,420.3 573.8,419.9 576.4,419.5 578.9,419.1 581.4,418.7 583.9,418.3 586.4,417.9 588.9,417.5 591.4,417.1 593.9,416.7 596.4,416.3 598.9,415.9 601.3,415.6 603.8,415.2 606.3,414.8 608.7,414.4 611.2,414.0 613.6,413.6 616.1,413.2 618.5,412.8 620.9,412.4 623.4,411.9 625.8,411.5 628.2,411.1 630.6,410.6 632.9,410.2 635.3,409.7 637.7,409.3 640.0,408.8 642.3,409.9 644.5,411.0 646.7,412.2 648.9,413.4 651.0,414.7 653.0,416.1 655.1,417.5 657.0,418.9 659.0,420.4 660.9,421.9 662.7,423.4 664.6,425.0 666.4,426.7 668.2,428.3 669.9,430.1 671.6,431.8 673.3,433.6 675.0,435.4 676.6,437.2 678.2,439.1 679.8,440.9 681.4,442.8 682.9,444.8 684.5,446.7 686.0,448.7 687.5,450.7 689.0,452.7 690.5,454.7 692.0,456.7 693.4,458.8 694.9,460.8 696.3,462.9 697.8,464.9 699.2,467.0 700.7,469.1 702.1,471.1 703.6,473.2 705.0,475.3 706.5,477.4 707.9,479.5 709.4,481.5 710.9,483.6 712.3,485.7 713.8,487.8 715.3,489.8 716.8,491.9 718.2,494.0 719.7,496.0 721.2,498.0 722.8,500.1 724.3,502.1 725.8,504.1 727.4,506.1 728.9,508.1 730.5,510.1 732.1,512.1 733.7,514.0 735.3,515.9 737.0,517.9 738.6,519.8 740.3,521.6 742.0,523.5 743.7,525.3 745.4,527.2 747.1,529.0 748.9,530.8 750.7,532.5 752.5,534.2 754.3,536.0 756.1,537.7 758.0,539.3 759.9,541.0 761.8,542.6 763.7,544.2 765.6,545.8 767.6,547.3 769.5,548.9 771.5,550.4 773.5,551.9 775.5,553.3 777.6,554.8 779.6,556.2 781.7,557.6 783.8,559.0 785.9,560.3 788.0,561.6 790.1,562.9 792.2,564.2 794.4,565.4 796.6,566.7 798.8,567.9 800.9,569.0 803.2,570.2 805.4,571.3 807.6,572.4 809.9,573.5 812.1,574.5 814.4,575.5 816.7,576.5 819.0,577.5 821.3,578.4 823.6,579.3 825.9,580.2 828.3,581.0 830.6,581.9 833.0,582.7 835.4,583.5 837.7,584.2 840.1,584.9 842.5,585.7 844.9,586.3 847.3,587.0 849.8,587.6 852.2,588.3 854.6,588.9 857.1,589.4 859.5,590.0 862.0,590.5 864.4,591.0 866.9,591.5 869.4,592.0 871.8,592.5 874.3,592.9 876.8,593.4 879.3,593.8 881.8,594.2 884.3,594.5 886.8,594.9 889.3,595.3 891.8,595.6 894.3,595.9 896.8,596.2 899.3,596.5 901.8,596.8 904.3,597.1 906.9,597.4 909.4,597.6 911.9,597.9 914.4,598.1 916.9,598.3 919.4,598.5 921.9,598.7 924.4,598.9 927.0,599.1 929.5,599.3 932.0,599.5 934.5,599.6 937.0,599.8 939.5,600.0 942.0,600.1 944.5,600.2 947.0,600.4 949.5,600.5 952.0,600.6 954.5,600.7 957.0,600.8 959.5,600.9 962.1,601.0 964.6,601.1 967.1,601.2 969.6,601.2 972.1,601.3 974.6,601.4 977.1,601.4 979.6,601.5 982.1,601.5 984.6,601.6 987.1,601.6 989.6,601.7 992.1,601.7 994.6,601.7 997.1,601.8 999.6,601.8 1002.1,601.8 1004.6,601.8 1007.1,601.8 1009.6,601.8 1012.1,601.9 1014.6,601.9 1017.1,601.9 1019.6,601.9 1022.1,601.9 1024.6,601.9 1027.1,601.9 1029.6,601.9 1032.1,601.9 1034.6,601.9 1037.1,601.9 1039.6,601.9 1042.1,601.9 1044.7,601.9 1047.2,601.9 1049.7,601.8 1052.2,601.8 1054.7,601.8 1057.2,601.8 1059.7,601.8 1062.2,601.8 1064.7,601.8 1067.2,601.9 1069.7,601.9 1072.2,601.9 1074.7,601.9 1077.2,601.9 1079.7,601.9 1082.2,601.9 1084.8,601.9 1087.3,601.9 1089.8,601.9 1092.3,602.0 1094.8,602.0 1097.3,602.0 1099.8,602.0 1102.3,602.0 1104.8,602.0 1107.3,602.1 1109.9,602.1 1112.4,602.1 1114.9,602.1 1117.4,602.2 1119.9,602.2 1122.4,602.2 1124.9,602.2 1127.4,602.2 1129.9,602.3 1132.5,602.3 1135.0,602.3 1137.5,602.3 1140.0,602.3 1142.5,602.4 1145.0,602.4 1147.5,602.4 1150.0,602.4 1152.6,602.4 1155.1,602.4 1157.6,602.4 1160.1,602.5 1162.6,602.5 1165.1,602.5 1167.6,602.5 1170.1,602.5 1172.7,602.5 1175.2,602.5 1177.7,602.5 1180.2,602.5 1182.7,602.5 1185.2,602.5 1187.7,602.5 1190.2,602.5 1192.8,602.5 1195.3,602.5 1197.8,602.5 1200.3,602.5 1202.8,602.5 1205.3,602.5 1207.8,602.4 1210.3,602.4 1212.8,602.4 1215.4,602.4 1217.9,602.3 1220.4,602.3 1222.9,602.3 1225.4,602.2 1227.9,602.2 1230.4,602.2 1232.9,602.1 1235.4,602.1 1237.9,602.0 1240.4,602.0 1243.0,601.9 1245.5,601.9 1248.0,601.8 1250.5,601.7 1253.0,601.7 1255.5,601.6 1258.0,601.5 1260.5,602.0 1262.9,602.8 1265.1,603.8 1267.1,604.9 1269.1,606.2 1270.9,607.7 1272.7,609.3 1274.3,611.1 1275.8,612.9 1277.3,614.9 1278.7,616.9 1280.0,619.0 1281.2,621.2 1282.4,623.4 1283.6,625.7 1284.7,628.0 1285.8,630.2 1286.9,632.5 1287.9,634.8 1288.9,637.2 1289.9,639.5 1290.9,641.8 1291.8,644.2 1292.7,646.5 1293.6,648.9 1294.5,651.2 1295.3,653.6 1296.2,656.0 1297.0,658.4 1297.8,660.7 1298.6,663.1 1299.4,665.5 1300.2,667.9 1300.9,670.3 1301.7,672.7 1302.4,675.1 1303.2,677.5 1303.9,680.0 1304.6,682.4 1305.4,684.8 1306.1,687.2 1306.8,689.6 1307.5,692.0 1308.3,694.4 1309.0,696.8 1309.7,699.2 1310.5,701.6 1311.2,704.0 1312.0,706.4 1312.7,708.8 1313.5,711.1 1314.2,713.5 1315.0,715.9 1315.7,718.3 1316.5,720.7 1317.3,723.0 1318.0,725.4 1318.8,727.8 1319.6,730.2 1320.4,732.5 1321.1,734.9 1321.9,737.3 1322.7,739.6 1323.5,742.0 1324.3,744.4 1325.1,746.7 1325.9,749.1 1326.7,751.5 1327.5,753.8 1328.3,756.2 1329.1,758.5 1329.9,760.9 1330.7,763.3 1331.5,765.6 1332.3,768.0 1333.1,770.3 1333.9,772.7 1334.7,775.1 1335.6,777.4 1336.4,779.8 1337.2,782.2 1338.0,784.5 1338.8,786.9 1339.7,789.3 1340.5,791.6 1341.3,794.0 1342.1,796.4 1343.0,798.7 1343.8,801.1 1344.6,803.5 1345.4,805.9 1346.3,808.2 1347.1,810.6 1348.0,813.0 1348.8,815.4 1349.6,817.7 1350.5,820.1 1351.4,822.5 1352.2,824.8 1353.1,827.2 1354.0,829.6 1354.8,831.9 1355.7,834.3 1356.6,836.7 1357.5,839.0 1358.4,841.4 1359.3,843.7 1360.2,846.1 1361.1,848.4 1362.1,850.7 1363.0,853.1 1364.0,855.4 1364.9,857.7 1365.9,860.1 1366.9,862.4 1367.8,864.7 1368.8,867.0 1369.8,869.3 1370.9,871.6 1371.9,873.9 1372.9,876.2 1374.0,878.4 1375.0,880.7 1376.1,883.0 1377.2,885.2 1378.3,887.5 1379.4,889.7 1380.5,892.0 1381.7,894.2 1382.8,896.4 1384.0,898.6 1385.2,900.8 1386.4,903.0 1387.6,905.2 1388.8,907.4 1390.0,909.6 1391.3,911.7 1392.6,913.9 1393.9,916.0 1395.2,918.1 1396.5,920.2 1397.8,922.4 1399.2,924.5 1400.6,926.5 1402.0,928.6 1403.4,930.7 1404.8,932.7 1406.3,934.8 1407.7,936.8 1409.2,938.8 1410.7,940.8 1412.3,942.8 1413.8,944.7 1415.4,946.6 1417.0,948.5 1418.7,950.4 1420.4,952.2 1422.1,954.0 1423.8,955.7 1425.5,957.5 1427.3,959.1 1429.2,960.7 1431.0,962.3 1432.9,963.8 1434.9,965.3 1436.8,966.7 1438.9,968.1 1440.9,969.3 1443.0,970.6 1445.2,971.7 1447.3,972.8 1449.6,973.8 1451.8,974.8 1454.1,975.7 1456.5,976.5 1458.9,977.2 1461.3,977.8 1463.8,978.4 1466.3,978.9 1468.8,979.4 1471.4,979.8 1473.9,980.1 1476.5,980.4 1479.1,980.6 1481.7,980.7 1484.3,980.8 1486.9,980.8 1489.6,980.8 1492.2,980.7 1494.8,980.6 1497.3,980.4 1499.9,980.2 1502.5,980.0 1505.0,979.6 1507.5,979.3 1510.0,978.9 1512.5,978.5 1514.9,978.0 1517.3,977.5 1519.7,976.9 1522.1,976.3 1524.5,975.7 1526.9,975.0 1529.2,974.3 1531.6,973.6 1533.9,972.9 1536.2,972.1 1538.5,971.3 1540.8,970.4 1543.0,969.5 1545.3,968.6 1547.6,967.7 1549.8,966.8 1552.1,965.8 1554.3,964.8 1556.5,963.8 1558.8,962.7 1561.0,961.7 1563.2,960.6 1565.4,959.5 1567.6,958.4 1569.9,957.3 1572.1,956.1 1574.3,955.0 1576.5,953.8 1578.7,952.6 1580.9,951.4 1583.1,950.2 1585.3,949.0 1587.5,947.8 1589.7,946.5 1591.9,945.2 1594.1,944.0 1596.3,942.7 1598.4,941.3 1600.6,940.0 1602.7,938.7 1604.9,937.3 1607.0,935.9 1609.1,934.5 1611.2,933.1 1613.3,931.6 1615.3,930.2 1617.4,928.7 1619.4,927.2 1621.4,925.7 1623.4,924.2 1625.4,922.7 1627.4,921.1 1629.3,919.5 1631.2,917.9 1633.1,916.3 1635.1,914.7 1636.9,913.1 1638.8,911.4 1640.7,909.7 1642.5,908.1 1644.4,906.4 1646.2,904.7 1648.0,903.0 1649.8,901.3 1651.6,899.5 1653.4,897.8 1655.2,896.0 1657.0,894.3 1658.7,892.5 1660.5,890.7 1662.2,888.9 1664.0,887.1 1665.7,885.3 1667.4,883.5 1669.2,881.7 1670.9,879.9 1672.6,878.1 1674.3,876.3 1676.0,874.4 1677.7,872.6 1679.4,870.8 1681.1,868.9 1682.8,867.1 1684.5,865.2 1686.2,863.4 1687.9,861.5 1689.6,859.7 1691.3,857.9 1692.9,856.0 1694.6,854.2 1696.3,852.3 1698.0,850.5 1699.7,848.7 1701.4,846.8 1703.1,845.0 1704.9,843.2 1706.6,841.4 1708.3,839.5 1710.0,837.7 1711.8,835.9 1713.5,834.1 1715.2,832.3 1717.0,830.6 1718.8,828.8 1720.5,827.0 1722.3,825.3 1724.1,823.5 1725.9,821.8 1727.7,820.0 1729.5,818.3 1731.3,816.6 1733.1,814.9 1735.0,813.2 1736.8,811.5 1738.7,809.9 1740.6,808.2 1742.4,806.6 1744.3,804.9 1746.2,803.3 1748.1,801.7 1750.1,800.1 1752.0,798.5 1753.9,797.0 1755.9,795.4 1757.8,793.9 1759.8,792.4 1761.8,790.8 1763.8,789.3 1765.8,787.9 1767.8,786.4 1769.8,784.9 1771.9,783.5 1773.9,782.1 1776.0,780.7 1778.1,779.3 1780.1,777.9 1782.2,776.5 1784.3,775.2 1786.5,773.9 1788.6,772.6 1790.7,771.3 1792.9,770.0 1795.1,768.8 1797.2,767.5 1799.4,766.3 1801.6,765.1 1803.8,764.0 1806.1,762.8 1808.3,761.7 1810.6,760.5 1812.8,759.5 1815.1,758.4 1817.4,757.3 1819.7,756.3 1822.0,755.3 1824.3,754.3 1826.7,753.3 1829.0,752.3 1831.3,751.4 1833.7,750.5 1836.1,749.6 1838.4,748.7 1840.8,747.8 1843.2,747.0 1845.6,746.2 1848.0,745.4 1850.4,744.6 1852.8,743.9 1855.2,743.1 1857.6,742.4 1860.1,741.7 1862.5,741.0 1864.9,740.4 1867.4,739.7 1869.8,739.1 1872.2,738.5 1874.7,738.0 1877.1,737.4 1879.6,736.9 1882.0,736.4 1884.5,735.9 1886.9,735.4 1889.4,735.0 1891.8,734.5 1894.3,734.1 1896.7,733.7 1899.2,733.3 1901.6,732.9 1904.1,732.6 1906.5,732.2 1909.0,731.9 1911.4,731.6 1913.9,731.3 1916.4,731.0 1918.8,730.7 1921.3,730.4 1923.8,730.1 1926.2,729.9 1928.7,729.6 1931.2,729.4 1933.6,729.1 1936.1,728.9 1938.6,728.7 1941.1,728.4 1943.5,728.2 1946.0,728.0 1948.5,727.7 1951.0,727.5 1953.4,727.3 1955.9,727.1 1958.4,726.8 1960.9,726.6 1963.4,726.4 1965.9,726.2 1968.4,725.9 1970.9,725.7 1973.4,725.5 1975.9,725.3 1978.3,725.1 1980.8,724.8 1983.3,724.6 1985.8,724.4 1988.3,724.2 1990.8,724.0 1993.3,723.7 1995.8,723.5 1998.3,723.3 2000.8,723.1 2003.3,722.9 2005.8,722.7 2008.3,722.5 2010.8,722.3 2013.3,722.1 2015.9,721.9 2018.4,721.7 2020.9,721.5 2023.4,721.3 2025.9,721.1 2028.4,720.9 2030.9,720.7 2033.4,720.6 2035.9,720.4 2038.4,720.2 2040.9,720.0 2043.4,719.9 2045.9,719.7 2048.4,719.5 2050.9,719.4 2053.4,719.2 2055.9,719.1 2058.4,718.9 2060.9,718.8 2063.4,718.6 2065.9,718.5 2068.4,718.4 2070.9,718.2 2073.4,718.1 2075.9,718.0 2078.4,717.8 2080.9,717.7 2083.4,717.6 2085.9,717.5 2088.4,717.4 2090.9,717.2 2093.4,717.1 2095.9,717.0 2098.4,716.9 2100.9,716.8 2103.4,716.7 2105.9,716.6 2108.4,716.5 2110.9,716.4 2113.4,716.3 2115.9,716.2 2118.4,716.1 2120.9,716.0 2123.4,715.9 2125.9,715.8 2128.4,715.7 2130.9,715.6 2133.4,715.5 2135.9,715.4 2138.4,715.4 2140.9,715.3 2143.4,715.2 2145.9,715.1 2148.5,715.0 2151.0,714.9 2153.5,714.9 2156.0,714.8 2158.5,714.7"/>
</g>
<line x1="1431" y1="534.2" x2="1300" y2="665" stroke="#000" stroke-width="4.4"/>
<polygon points="1275,690.6 1290.1,647.2 1302.8,662.6 1318.6,675.2" fill="#000"/>
<text x="170.20" y="142.15" font-size="55.50" font-weight="bold" font-family="'Liberation Sans', Arial, sans-serif" text-anchor="start" textLength="99.01" lengthAdjust="spacingAndGlyphs">15k</text>
<text x="169.30" y="300.45" font-size="55.50" font-weight="bold" font-family="'Liberation Sans', Arial, sans-serif" text-anchor="start" textLength="99.81" lengthAdjust="spacingAndGlyphs">10k</text>
<text x="202.50" y="458.75" font-size="55.50" font-weight="bold" font-family="'Liberation Sans', Arial, sans-serif" text-anchor="start" textLength="65.42" lengthAdjust="spacingAndGlyphs">5k</text>
<text x="235.50" y="617.05" font-size="55.50" font-weight="bold" font-family="'Liberation Sans', Arial, sans-serif" text-anchor="start" textLength="33.28" lengthAdjust="spacingAndGlyphs">0</text>
<text x="182.60" y="775.35" font-size="55.50" font-weight="bold" font-family="'Liberation Sans', Arial, sans-serif" text-anchor="start" textLength="85.78" lengthAdjust="spacingAndGlyphs">-5k</text>
<text x="150.20" y="933.65" font-size="55.50" font-weight="bold" font-family="'Liberation Sans', Arial, sans-serif" text-anchor="start" textLength="118.48" lengthAdjust="spacingAndGlyphs">-10k</text>
<text x="150.20" y="1091.95" font-size="55.50" font-weight="bold" font-family="'Liberation Sans', Arial, sans-serif" text-anchor="start" textLength="118.19" lengthAdjust="spacingAndGlyphs">-15k</text>
<text x="150.20" y="1250.25" font-size="55.50" font-weight="bold" font-family="'Liberation Sans', Arial, sans-serif" text-anchor="start" textLength="118.19" lengthAdjust="spacingAndGlyphs">-20k</text>
<text x="299.00" y="1394.80" font-size="56.00" font-weight="normal" font-family="'Liberation Sans', Arial, sans-serif" text-anchor="start" textLength="32.74" lengthAdjust="spacingAndGlyphs">0</text>
<text x="725.00" y="1394.80" font-size="56.00" font-weight="normal" font-family="'Liberation Sans', Arial, sans-serif" text-anchor="start" textLength="99.92" lengthAdjust="spacingAndGlyphs">500</text>
<text x="1172.00" y="1394.80" font-size="56.00" font-weight="normal" font-family="'Liberation Sans', Arial, sans-serif" text-anchor="start" textLength="129.15" lengthAdjust="spacingAndGlyphs">1000</text>
<text x="1632.00" y="1394.80" font-size="56.00" font-weight="normal" font-family="'Liberation Sans', Arial, sans-serif" text-anchor="start" textLength="131.96" lengthAdjust="spacingAndGlyphs">1500</text>
<text x="2091.00" y="1394.80" font-size="56.00" font-weight="normal" font-family="'Liberation Sans', Arial, sans-serif" text-anchor="start" textLength="133.09" lengthAdjust="spacingAndGlyphs">2000</text>
<text x="1119.00" y="1494.00" font-size="63.00" font-weight="normal" font-family="'Liberation Sans', Arial, sans-serif" text-anchor="start" textLength="235.40" lengthAdjust="spacingAndGlyphs">time [s]</text>
<g transform="translate(62.4 914.8) rotate(-90)"><text transform="scale(1 1.16)" x="0.00" y="0.00" font-size="63.00" font-weight="normal" font-family="'Liberation Sans', Arial, sans-serif" text-anchor="start" textLength="436.50" lengthAdjust="spacingAndGlyphs">Frequency [Hz]</text></g>
<text x="1393.70" y="515.30" font-size="65.50" font-weight="normal" font-family="'Liberation Serif', 'Times New Roman', serif" text-anchor="start" textLength="462.60" lengthAdjust="spacingAndGlyphs">Volatile injection</text>
<text x="373.90" y="814.10" font-size="65.50" font-weight="normal" font-family="'Liberation Serif', 'Times New Roman', serif" text-anchor="start" textLength="220.01" lengthAdjust="spacingAndGlyphs">Venting</text>
<text x="422.60" y="888.00" font-size="65.50" font-weight="normal" font-family="'Liberation Serif', 'Times New Roman', serif" text-anchor="start" textLength="123.65" lengthAdjust="spacingAndGlyphs">time</text>
<text x="719.10" y="851.70" font-size="65.50" font-weight="normal" font-family="'Liberation Serif', 'Times New Roman', serif" text-anchor="start" textLength="487.22" lengthAdjust="spacingAndGlyphs">Establish baseline</text>
</svg></body></html>
